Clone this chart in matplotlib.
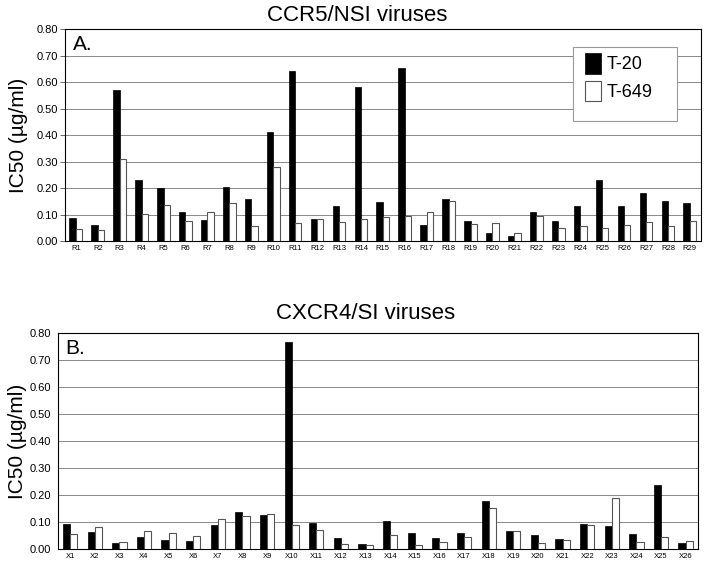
import matplotlib.pyplot as plt
import matplotlib.patches as mpatches
import numpy as np

plt.rcParams['font.family'] = ['Liberation Sans', 'DejaVu Sans']

r_labels = ["R%d" % i for i in range(1, 30)]
r_t20 = [0.086, 0.059, 0.569, 0.229, 0.200, 0.110, 0.079, 0.205, 0.160, 0.413,
         0.644, 0.082, 0.132, 0.584, 0.147, 0.654, 0.062, 0.160, 0.077, 0.032,
         0.018, 0.109, 0.074, 0.132, 0.231, 0.132, 0.183, 0.151, 0.142]
r_t649 = [0.045, 0.043, 0.311, 0.103, 0.135, 0.077, 0.108, 0.144, 0.058, 0.278,
          0.067, 0.082, 0.071, 0.084, 0.090, 0.094, 0.110, 0.151, 0.065, 0.067,
          0.029, 0.095, 0.048, 0.056, 0.048, 0.061, 0.072, 0.056, 0.075]

x_labels = ["X%d" % i for i in range(1, 27)]
x_t20 = [0.093, 0.062, 0.022, 0.043, 0.032, 0.030, 0.089, 0.137, 0.126, 0.769,
         0.096, 0.042, 0.017, 0.104, 0.061, 0.042, 0.061, 0.179, 0.066, 0.051,
         0.037, 0.093, 0.086, 0.056, 0.239, 0.022]
x_t649 = [0.054, 0.082, 0.026, 0.067, 0.058, 0.049, 0.110, 0.122, 0.130, 0.088,
          0.070, 0.017, 0.014, 0.052, 0.015, 0.027, 0.044, 0.152, 0.068, 0.022,
          0.034, 0.088, 0.190, 0.026, 0.045, 0.030]

yticks = [0.0, 0.1, 0.2, 0.3, 0.4, 0.5, 0.6, 0.7, 0.8]

fig = plt.figure(figsize=(7.05, 5.65), dpi=100)
ax1 = fig.add_axes([0.092, 0.5735, 0.902, 0.3745])
ax2 = fig.add_axes([0.082, 0.0283, 0.908, 0.382])


def draw(ax, labels, t20, t649, title, tag, tx, tpad, ticklen, lpad):
    x = np.arange(len(labels))
    w = 0.29
    ax.bar(x - w / 2, t20, w, color="black", edgecolor="black", linewidth=0.5, label="T-20", zorder=3)
    ax.bar(x + w / 2, t649, w, color="white", edgecolor="#555555", linewidth=0.8, label="T-649", zorder=3)
    ax.set_xlim(-0.5, len(labels) - 0.5)
    ax.set_ylim(0, 0.8)
    ax.set_yticks(yticks)
    ax.set_yticklabels(["%.2f" % v for v in yticks], fontsize=8)
    ax.set_xticks(x)
    ax.set_xticklabels(labels, fontsize=5.5)
    ax.tick_params(axis="x", length=0, pad=3)
    ax.tick_params(axis="y", length=ticklen, width=0.7, color="#666666", pad=5 - ticklen)
    ax.grid(axis="y", color="#888888", linewidth=0.7, zorder=0)
    ax.set_ylabel("IC50 (µg/ml)", fontsize=15, labelpad=lpad)
    ax.set_title(title, fontsize=16, x=tx, pad=tpad)
    ax.text(0.012, 0.975, tag, transform=ax.transAxes, fontsize=15, va="top", ha="left")
    for s in ax.spines.values():
        s.set_linewidth(0.8)


draw(ax1, r_labels, r_t20, r_t649, "CCR5/NSI viruses", "A.", 0.459, 6, 3.5, 6)
draw(ax2, x_labels, x_t20, x_t649, "CXCR4/SI viruses", "B.", 0.481, 10, 0, 2)

# Excel-style legend box in panel A
box = mpatches.Rectangle((0.799, 0.566), 0.163, 0.349, transform=ax1.transAxes,
                         facecolor="white", edgecolor="#999999", linewidth=0.8, zorder=4)
ax1.add_patch(box)
leg = ax1.legend(loc="upper left", bbox_to_anchor=(0.818, 0.89), fontsize=13, frameon=False,
                 handlelength=0.9, handleheight=1.4, handletextpad=0.3, borderpad=0,
                 borderaxespad=0, labelspacing=0.39)
leg.set_zorder(5)

fig.savefig("out.png", dpi=100)
